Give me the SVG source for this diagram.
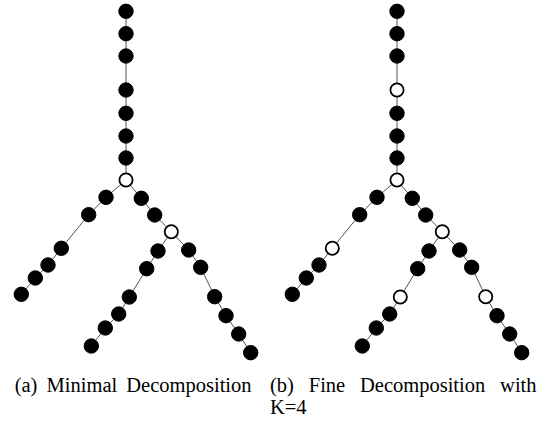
<svg xmlns="http://www.w3.org/2000/svg" width="551" height="426" viewBox="0 0 551 426">
<style>
.e{fill:none;stroke:#555;stroke-width:1}
.f{fill:#000;stroke:#000;stroke-width:1}
.o{fill:#fff;stroke:#000;stroke-width:1.8}
text{font-family:"Liberation Serif","Times New Roman",serif;font-size:20.5px;fill:#000}
</style>
<rect width="551" height="426" fill="#fff"/>
<g id="connectors">
<g id="edges-a">
<polyline class="e" points="126,11.3 126,180"/>
<polyline class="e" points="126,180 106,197.3 88.7,214.7 61.3,248.3 48,265 35.3,278 21.3,294.3"/>
<polyline class="e" points="126,180 141.3,198.3 154.7,215 171.3,231.7"/>
<polyline class="e" points="171.3,231.7 158,251 146.7,268.7 129.3,297 118.7,314 105.3,328 91.3,346"/>
<polyline class="e" points="171.3,231.7 188.7,250 200.7,267.3 214.7,296.7 226,315.7 238.7,334 250.7,352.7"/>
</g>
<g id="edges-b" transform="translate(271,0)">
<polyline class="e" points="126,11.3 126,180"/>
<polyline class="e" points="126,180 106,197.3 88.7,214.7 61.3,248.3 48,265 35.3,278 21.3,294.3"/>
<polyline class="e" points="126,180 141.3,198.3 154.7,215 171.3,231.7"/>
<polyline class="e" points="171.3,231.7 158,251 146.7,268.7 129.3,297 118.7,314 105.3,328 91.3,346"/>
<polyline class="e" points="171.3,231.7 188.7,250 200.7,267.3 214.7,296.7 226,315.7 238.7,334 250.7,352.7"/>
</g>
</g>
<g id="tree-a">
<g id="a1"><circle class="f" cx="126" cy="11.3" r="7.2"/></g>
<g id="a2"><circle class="f" cx="126" cy="33.7" r="7.2"/></g>
<g id="a3"><circle class="f" cx="126" cy="56" r="7.2"/></g>
<g id="a4"><circle class="f" cx="126" cy="90" r="7.2"/></g>
<g id="a5"><circle class="f" cx="126" cy="113.3" r="7.2"/></g>
<g id="a6"><circle class="f" cx="126" cy="136" r="7.2"/></g>
<g id="a7"><circle class="f" cx="126" cy="158" r="7.2"/></g>
<g id="a-root"><circle class="o" cx="126" cy="180" r="6.6"/></g>
<g id="a-l1"><circle class="f" cx="106" cy="197.3" r="7.2"/></g>
<g id="a-l2"><circle class="f" cx="88.7" cy="214.7" r="7.2"/></g>
<g id="a-l3"><circle class="f" cx="61.3" cy="248.3" r="7.2"/></g>
<g id="a-l4"><circle class="f" cx="48" cy="265" r="7.2"/></g>
<g id="a-l5"><circle class="f" cx="35.3" cy="278" r="7.2"/></g>
<g id="a-l6"><circle class="f" cx="21.3" cy="294.3" r="7.2"/></g>
<g id="a-r1"><circle class="f" cx="141.3" cy="198.3" r="7.2"/></g>
<g id="a-r2"><circle class="f" cx="154.7" cy="215" r="7.2"/></g>
<g id="a-split"><circle class="o" cx="171.3" cy="231.7" r="6.6"/></g>
<g id="a-sl1"><circle class="f" cx="158" cy="251" r="7.2"/></g>
<g id="a-sl2"><circle class="f" cx="146.7" cy="268.7" r="7.2"/></g>
<g id="a-sl3"><circle class="f" cx="129.3" cy="297" r="7.2"/></g>
<g id="a-sl4"><circle class="f" cx="118.7" cy="314" r="7.2"/></g>
<g id="a-sl5"><circle class="f" cx="105.3" cy="328" r="7.2"/></g>
<g id="a-sl6"><circle class="f" cx="91.3" cy="346" r="7.2"/></g>
<g id="a-sr1"><circle class="f" cx="188.7" cy="250" r="7.2"/></g>
<g id="a-sr2"><circle class="f" cx="200.7" cy="267.3" r="7.2"/></g>
<g id="a-sr3"><circle class="f" cx="214.7" cy="296.7" r="7.2"/></g>
<g id="a-sr4"><circle class="f" cx="226" cy="315.7" r="7.2"/></g>
<g id="a-sr5"><circle class="f" cx="238.7" cy="334" r="7.2"/></g>
<g id="a-sr6"><circle class="f" cx="250.7" cy="352.7" r="7.2"/></g>
</g>
<g id="tree-b" transform="translate(271,0)">
<g id="b1"><circle class="f" cx="126" cy="11.3" r="7.2"/></g>
<g id="b2"><circle class="f" cx="126" cy="33.7" r="7.2"/></g>
<g id="b3"><circle class="f" cx="126" cy="56" r="7.2"/></g>
<g id="b4"><circle class="o" cx="126" cy="90" r="6.6"/></g>
<g id="b5"><circle class="f" cx="126" cy="113.3" r="7.2"/></g>
<g id="b6"><circle class="f" cx="126" cy="136" r="7.2"/></g>
<g id="b7"><circle class="f" cx="126" cy="158" r="7.2"/></g>
<g id="b-root"><circle class="o" cx="126" cy="180" r="6.6"/></g>
<g id="b-l1"><circle class="f" cx="106" cy="197.3" r="7.2"/></g>
<g id="b-l2"><circle class="f" cx="88.7" cy="214.7" r="7.2"/></g>
<g id="b-l3"><circle class="o" cx="61.3" cy="248.3" r="6.6"/></g>
<g id="b-l4"><circle class="f" cx="48" cy="265" r="7.2"/></g>
<g id="b-l5"><circle class="f" cx="35.3" cy="278" r="7.2"/></g>
<g id="b-l6"><circle class="f" cx="21.3" cy="294.3" r="7.2"/></g>
<g id="b-r1"><circle class="f" cx="141.3" cy="198.3" r="7.2"/></g>
<g id="b-r2"><circle class="f" cx="154.7" cy="215" r="7.2"/></g>
<g id="b-split"><circle class="o" cx="171.3" cy="231.7" r="6.6"/></g>
<g id="b-sl1"><circle class="f" cx="158" cy="251" r="7.2"/></g>
<g id="b-sl2"><circle class="f" cx="146.7" cy="268.7" r="7.2"/></g>
<g id="b-sl3"><circle class="o" cx="129.3" cy="297" r="6.6"/></g>
<g id="b-sl4"><circle class="f" cx="118.7" cy="314" r="7.2"/></g>
<g id="b-sl5"><circle class="f" cx="105.3" cy="328" r="7.2"/></g>
<g id="b-sl6"><circle class="f" cx="91.3" cy="346" r="7.2"/></g>
<g id="b-sr1"><circle class="f" cx="188.7" cy="250" r="7.2"/></g>
<g id="b-sr2"><circle class="f" cx="200.7" cy="267.3" r="7.2"/></g>
<g id="b-sr3"><circle class="o" cx="214.7" cy="296.7" r="6.6"/></g>
<g id="b-sr4"><circle class="f" cx="226" cy="315.7" r="7.2"/></g>
<g id="b-sr5"><circle class="f" cx="238.7" cy="334" r="7.2"/></g>
<g id="b-sr6"><circle class="f" cx="250.7" cy="352.7" r="7.2"/></g>
</g>
<g id="captions">
<text x="14.7" y="392" word-spacing="4">(a) Minimal Decomposition</text>
<text x="270" y="392" word-spacing="9.7">(b) Fine Decomposition with</text>
<text x="270" y="414">K=4</text>
</g>
</svg>
